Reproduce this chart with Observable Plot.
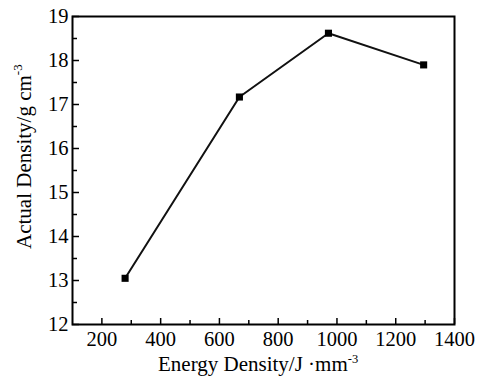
<!DOCTYPE html>
<html>
<head>
<meta charset="utf-8">
<script src="https://cdn.jsdelivr.net/npm/d3@7"></script>
<script src="https://cdn.jsdelivr.net/npm/@observablehq/plot@0.6"></script>
<style>
  html, body { margin: 0; padding: 0; background: #fff; }
</style>
</head>
<body>
<div id="chart"></div>
<script>
const energy = [279, 668, 971, 1295];
const density = [13.05, 17.17, 18.62, 17.9];
const xMajor = [200, 400, 600, 800, 1000, 1200, 1400];
const xMinor = [300, 500, 700, 900, 1100, 1300];
const yMajor = [12, 13, 14, 15, 16, 17, 18, 19];
const yMinor = [12.5, 13.5, 14.5, 15.5, 16.5, 17.5, 18.5];

const data = energy.map((e, i) => ({e, d: density[i]}));

const serif = '"Liberation Serif", "Times New Roman", serif';
const W = 477, H = 376;
const chart = Plot.plot({
  width: W,
  height: H,
  marginLeft: 72,
  marginRight: 23,
  marginTop: 16,
  marginBottom: 52,
  style: {background: "#fff", color: "#000"},
  x: {domain: [100, 1400]},
  y: {domain: [12, 19]},
  marks: [
    Plot.axisX({ticks: xMajor, tickSize: -6, tickPadding: 13, tickFormat: d => String(d), label: null, strokeWidth: 1.5, fontSize: 20.5}),
    Plot.axisX({ticks: xMinor, tickSize: -4, tickFormat: () => "", label: null, strokeWidth: 1.5}),
    Plot.axisY({ticks: yMajor, tickSize: -7, tickPadding: 11, tickFormat: d => String(d), label: null, strokeWidth: 1.5, fontSize: 20.5}),
    Plot.axisY({ticks: yMinor, tickSize: -5, tickFormat: () => "", label: null, strokeWidth: 1.5}),
    Plot.frame({stroke: "#000", strokeWidth: 2}),
    Plot.line(data, {x: "e", y: "d", stroke: "#111", strokeWidth: 2}),
    Plot.dot(data, {x: "e", y: "d", symbol: "square", r: 4, fill: "#000", stroke: "none"})
  ]
});

const svg = d3.select(chart);
svg.attr("font-family", serif).style("font-family", serif);
svg.selectAll("g").attr("font-family", null);
svg.selectAll("text").style("font-family", serif).style("font-variant", "normal");

// x axis title with superscript
const xt = svg.append("text")
  .attr("x", 158).attr("y", 371)
  .attr("text-anchor", "start")
  .style("font-family", serif)
  .style("font-size", "21px")
  .attr("fill", "#000");
xt.append("tspan").text("Energy Density/J ·mm");
xt.append("tspan").attr("dy", -8).style("font-size", "12.5px").text("-3");

// y axis title with superscript
const yt = svg.append("text")
  .attr("transform", "translate(31,249) rotate(-90)")
  .attr("text-anchor", "start")
  .style("font-family", serif)
  .style("font-size", "21px")
  .attr("fill", "#000");
yt.append("tspan").text("Actual Density/g cm");
yt.append("tspan").attr("dy", -9).style("font-size", "13px").text("-3");

document.getElementById("chart").appendChild(chart);
</script>
</body>
</html>
